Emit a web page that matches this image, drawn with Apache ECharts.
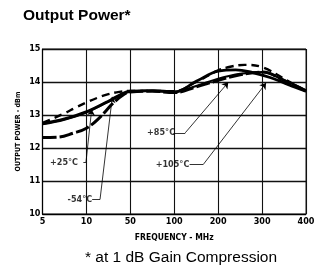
<!DOCTYPE html>
<html><head><meta charset="utf-8">
<script src="https://cdn.jsdelivr.net/npm/echarts@6/dist/echarts.min.js"></script>
<style>html,body{margin:0;padding:0;background:#fff}#c{width:322px;height:267px}</style>
</head><body><div id="c"></div>
<script>
// x positions are category index positions on the 5..400 MHz axis (equally spaced ticks)
const xTickLabels = ['5','10','50','100','200','300','400'];
const yTicks = [10,11,12,13,14,15];

const m54X = [0, 0.25, 0.5, 0.75, 1, 1.25, 1.5, 1.75, 2, 2.5, 3, 3.5, 4, 4.3, 4.6, 5, 5.5, 6];
const m54Y = [12.76, 12.9, 13.05, 13.22, 13.38, 13.52, 13.63, 13.7, 13.73, 13.73, 13.72, 14.0, 14.35, 14.47, 14.52, 14.45, 14.1, 13.72];

const p25X = [0, 0.5, 1, 1.25, 1.5, 1.75, 2, 2.5, 3, 3.5, 4, 4.4, 4.8, 5.2, 5.6, 6];
const p25Y = [12.74, 12.88, 13.1, 13.25, 13.42, 13.6, 13.72, 13.74, 13.7, 14.02, 14.33, 14.37, 14.28, 14.13, 13.92, 13.72];

const p85X = [0, 0.5, 1, 1.5, 2, 2.5, 3, 3.5, 4, 4.5, 5, 5.5, 6];
const p85Y = [12.72, 12.86, 13.08, 13.4, 13.71, 13.73, 13.7, 13.88, 14.1, 14.25, 14.3, 14.05, 13.75];

const p105X = [0, 0.35, 0.7, 1, 1.3, 1.6, 1.85, 2, 2.5, 3, 3.5, 4, 4.5, 5, 5.5, 6];
const p105Y = [12.32, 12.33, 12.45, 12.6, 12.92, 13.35, 13.62, 13.7, 13.72, 13.68, 13.85, 14.05, 14.22, 14.3, 14.05, 13.72];

// annotations: label text, label centre, leader start, elbow, arrow tip (data coords)
const annText   = ['+25°C', '-54°C', '+85°C', '+105°C'];
const annLabX   = [0.49, 0.85, 2.70, 2.96];
const annLabY   = [11.57, 10.44, 12.46, 11.5];
const annStartX = [0.93, 1.13, 2.98, 3.35];
const annEndX   = [0.99, 1.31, 3.25, 3.66];
const annTipX   = [1.12, 1.59, 4.23, 5.09];
const annTipY   = [13.17, 13.55, 13.99, 13.97];

const zip = (xs, ys) => xs.map((x, i) => [x, ys[i]]);
const font = '"DejaVu Sans Condensed","Liberation Sans Narrow","Liberation Sans",sans-serif';

const curve = (name, xs, ys, w, type) => ({
  name, type: 'line', data: zip(xs, ys), smooth: 0.4, symbol: 'none',
  lineStyle: { color: '#000', width: w, type: type }, z: 5
});

const series = [
  curve('-54°C', m54X, m54Y, 2.4, [8, 5]),
  curve('+25°C', p25X, p25Y, 2.8, 'solid'),
  curve('+85°C', p85X, p85Y, 2.2, 'solid'),
  curve('+105°C', p105X, p105Y, 3, [14, 3])
];

// leader lines
const mlData = [];
annText.forEach((t, i) => {
  mlData.push([{ coord: [annStartX[i], annLabY[i]], symbol: 'none' }, { coord: [annEndX[i], annLabY[i]], symbol: 'none' }]);
  mlData.push([{ coord: [annEndX[i], annLabY[i]], symbol: 'none' }, { coord: [annTipX[i], annTipY[i]], symbol: 'arrow', symbolSize: 6 }]);
});
series.push({
  type: 'line', data: [], symbol: 'none',
  markLine: { silent: true, animation: false, symbol: 'none', label: { show: false },
    lineStyle: { color: '#000', width: 0.8, type: 'solid' }, data: mlData }
});
series.push({
  type: 'scatter', symbolSize: 0, z: 6,
  data: annText.map((t, i) => ({ value: [annLabX[i], annLabY[i]], name: t })),
  label: { show: true, position: 'inside', formatter: p => p.name, color: '#000',
    fontFamily: font, fontWeight: 'bold', fontSize: 9 }
});

const chart = echarts.init(document.getElementById('c'), null, { renderer: 'canvas' });
chart.setOption({
  animation: false,
  backgroundColor: '#fff',
  title: [
    { text: 'Output Power*', left: 18, top: 3,
      textStyle: { fontFamily: '"Liberation Sans",Arial,sans-serif', fontWeight: 'bold', fontSize: 15.5, color: '#000' } },
    { text: '* at 1 dB Gain Compression', left: 176, top: 245, textAlign: 'center',
      textStyle: { fontFamily: '"Liberation Sans",Arial,sans-serif', fontWeight: 'normal', fontSize: 15.5, color: '#000' } }
  ],
  grid: { left: 42.5, right: 16, top: 49, bottom: 53, show: true, borderColor: '#222', borderWidth: 1 },
  xAxis: {
    type: 'value', min: 0, max: 6, interval: 1,
    name: 'FREQUENCY - MHz', nameLocation: 'middle', nameGap: 19, nameMoveOverlap: false,
    nameTextStyle: { fontFamily: font, fontWeight: 'bold', fontSize: 8.5, color: '#000' },
    axisLine: { show: true, lineStyle: { color: '#000', width: 1 } },
    axisTick: { show: false },
    axisLabel: { formatter: v => xTickLabels[Math.round(v)], fontFamily: font, fontWeight: 'bold', fontSize: 9, color: '#000', margin: 3 },
    splitLine: { show: true, lineStyle: { color: '#111', width: 1.1 } }
  },
  yAxis: {
    type: 'value', min: yTicks[0], max: yTicks[yTicks.length - 1], interval: 1,
    name: 'OUTPUT POWER - dBm', nameLocation: 'middle', nameGap: 21, nameRotate: 90, nameMoveOverlap: false,
    nameTextStyle: { fontFamily: font, fontWeight: 'bold', fontSize: 7, color: '#000' },
    axisLine: { show: true, lineStyle: { color: '#000', width: 1.2 } },
    axisTick: { show: false },
    axisLabel: { fontFamily: font, fontWeight: 'bold', fontSize: 9, color: '#000', margin: 2 },
    splitLine: { show: true, lineStyle: { color: '#111', width: 1.3 } }
  },
  series
});
</script></body></html>
